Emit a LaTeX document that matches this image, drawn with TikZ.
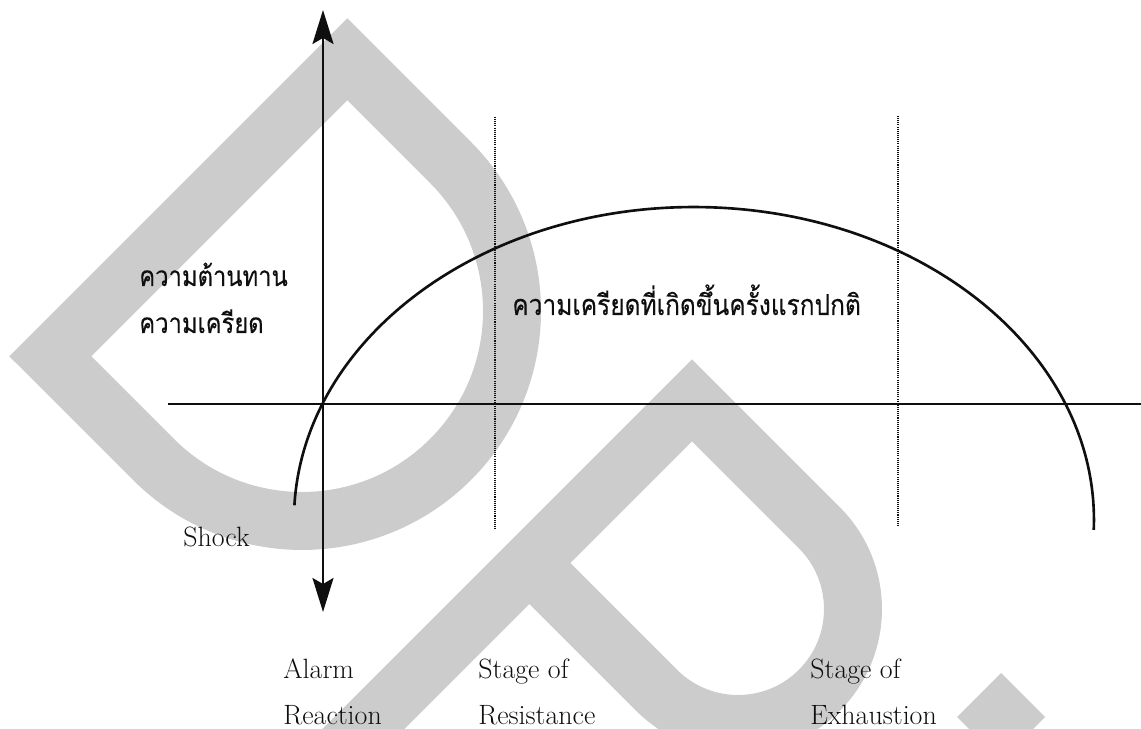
\documentclass[tikz,border=0pt]{standalone}
\usepackage{fontspec}
\usepackage{tikz}
\usetikzlibrary{arrows.meta, positioning}
\newfontfamily\thaifont[Script=Thai, FakeStretch=0.85, FakeBold=0.2]{Loma}
\definecolor{wmgray}{RGB}{204,204,204}
\definecolor{ink}{RGB}{15,15,15}
\tikzset{
  axtip/.tip={Stealth[length=0.68cm, width=0.42cm, inset=0.12cm]},
  axis/.style={draw=ink, line width=1.3pt},
  guide/.style={draw=ink, line width=1.3pt, dash pattern=on 0.6pt off 0.6pt},
  curve/.style={draw=ink, line width=1.5pt},
  watermark/.style={draw=wmgray, line width=1.16cm, miter limit=10},
  thlabel/.style={anchor=base west, inner sep=0pt, text=ink, font=\thaifont\fontsize{15.9}{19}\selectfont},
  enlabel/.style={anchor=base west, inner sep=0pt, text=ink, font=\fontsize{15.9}{19}\selectfont},
}
\begin{document}
\begin{tikzpicture}[x=0.02cm, y=0.02cm]
  \useasboundingbox (0,0) rectangle (1141,729);
  % watermark
  \begin{scope}
    \clip (0,0) rectangle (1141,729);
    \draw[watermark] (50.3,372.7) -- (347.3,669.7) -- (450.5,566.5)
      arc[start angle=45, end angle=-135, radius=210] -- cycle;
    \draw[watermark] (250,-113.4) -- (692,328.6) -- (819.3,201.3)
      arc[start angle=45, end angle=-135, radius=115] -- (529.4,166);
    \fill[wmgray] (1001,56) -- (1045,12) -- (1001,-32) -- (957,12) -- cycle;
  \end{scope}

  \coordinate (ytop) at (323,719);
  \coordinate (ybot) at (323,117);
  \coordinate (xl) at (168,325);
  \coordinate (xr) at (1141,325);
  \coordinate (r1) at (495,612);
  \coordinate (r2) at (495,200);
  \coordinate (e1) at (898,613);
  \coordinate (e2) at (898,202);
  \coordinate (gas) at (294.4,223.7);

  \draw[axis, axtip-axtip] (ybot) -- (ytop);
  \draw[axis] (xl) -- (xr);
  \draw[guide] (r1) -- (r2);
  \draw[guide] (e1) -- (e2);
  \draw[curve] (gas) arc[start angle=177.3, end angle=-1.8, x radius=400, y radius=313];

  \node[thlabel] (resist1) at (139,443) {ความต้านทาน};
  \node[thlabel] (resist2) at (139,396) {ความเครียด};
  \node[thlabel, font=\thaifont\fontsize{16.4}{19}\selectfont] (normal) at (512,414) {ความเครียดที่เกิดขึ้นครั้งแรกปกติ};
  \node[enlabel] (shock) at (183,182) {Shock};
  \node[enlabel] (alarm1) at (283,50) {Alarm};
  \node[enlabel] (alarm2) at (283,4) {Reaction};
  \node[enlabel] (res1) at (478,50) {Stage of};
  \node[enlabel] (res2) at (478,4) {Resistance};
  \node[enlabel] (exh1) at (810,50) {Stage of};
  \node[enlabel] (exh2) at (810,4) {Exhaustion};
\end{tikzpicture}
\end{document}
